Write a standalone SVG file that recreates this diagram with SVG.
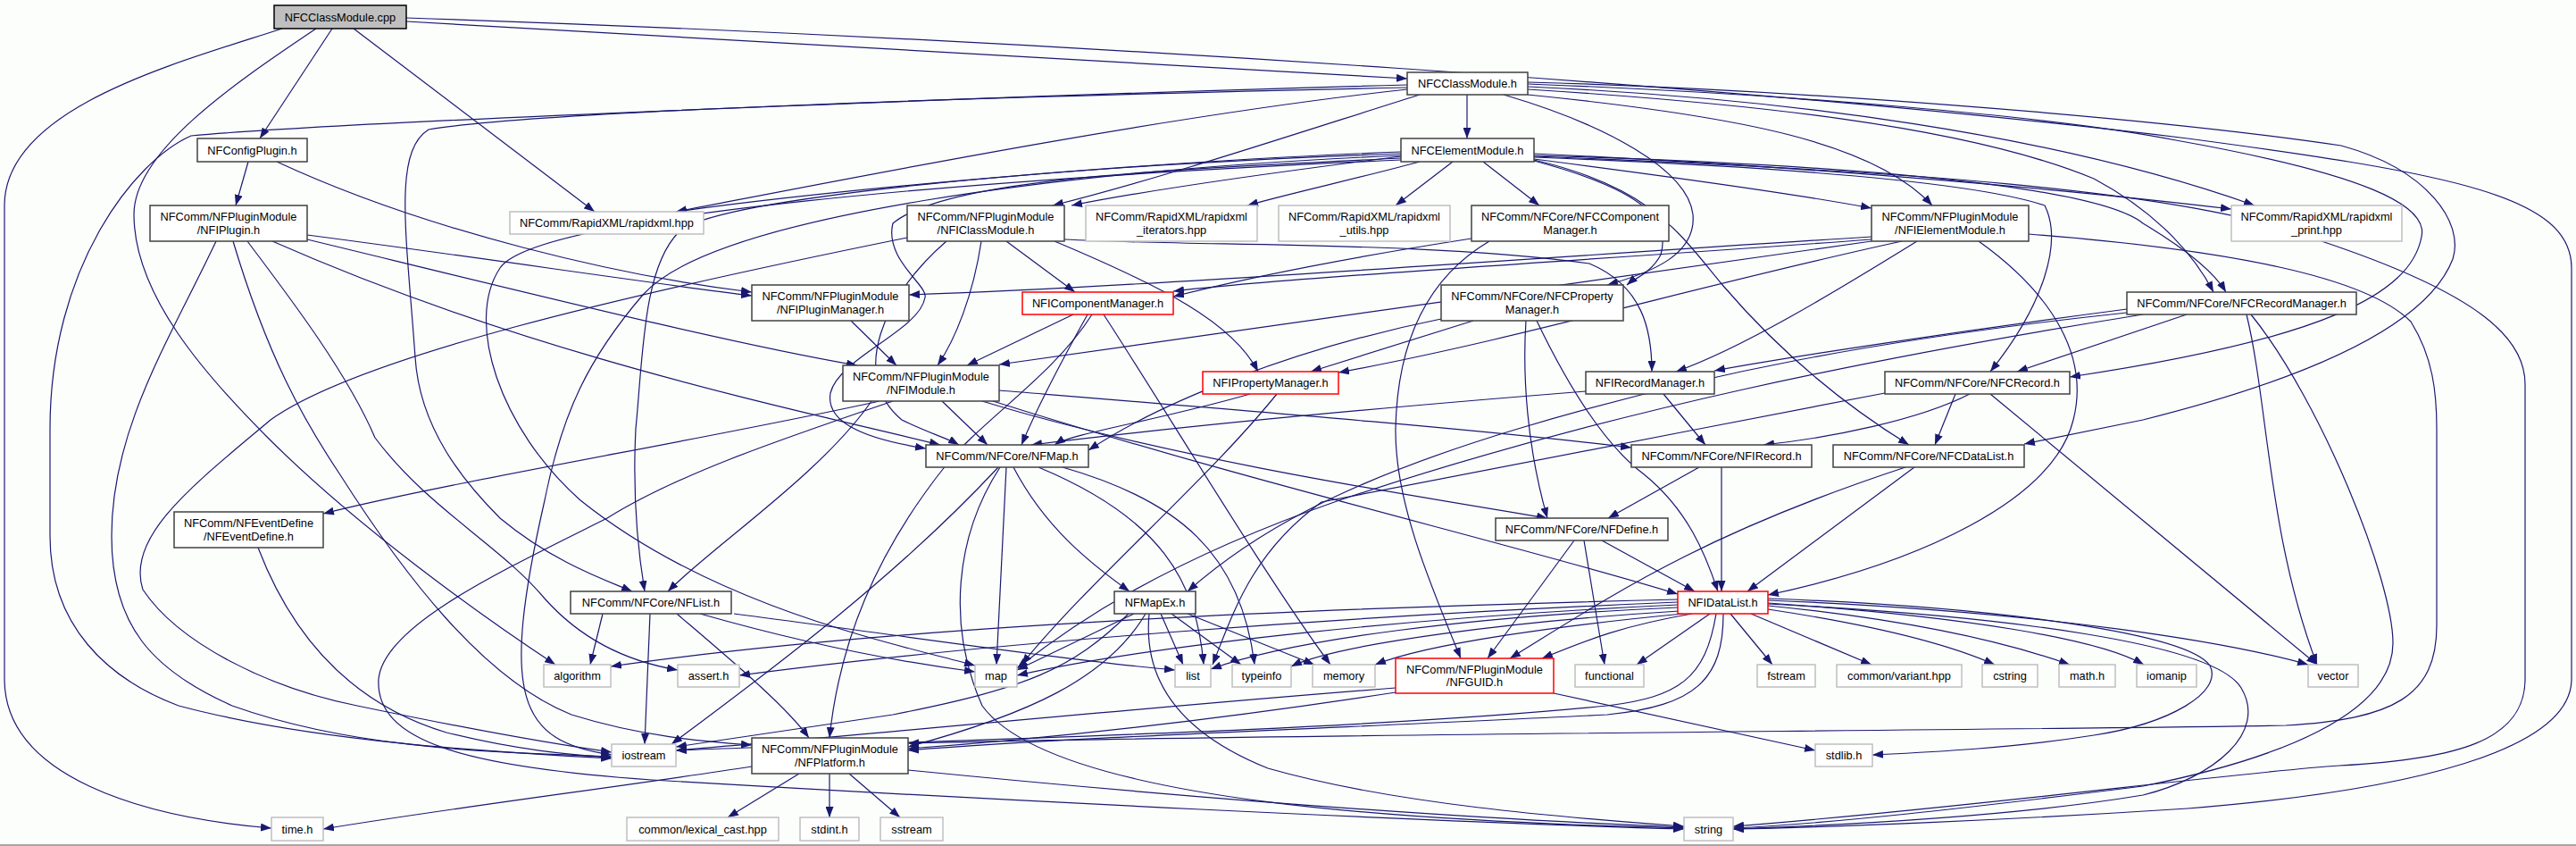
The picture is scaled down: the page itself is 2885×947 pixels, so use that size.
<svg xmlns="http://www.w3.org/2000/svg" width="2885" height="947" viewBox="0 0 2885 947">
<defs>
<marker id="a" markerUnits="userSpaceOnUse" markerWidth="12" markerHeight="9" refX="12" refY="4.5" orient="auto"><path d="M0,0 L12,4.5 L0,9 z" fill="#191970"/></marker>
<style>
.n rect{fill:#fff;stroke:#404040;stroke-width:1.5}
.g rect{fill:#fff;stroke:#bfbfbf;stroke-width:1.5}
.r rect{fill:#fff;stroke:#ff0000;stroke-width:1.5}
.root rect{fill:#bfbfbf;stroke:#000;stroke-width:1.5}
text{font-family:"Liberation Sans",Arial,sans-serif;font-size:12.8px;text-anchor:middle;fill:#000}
#edges path{fill:none;stroke:#191970;stroke-width:1.2;marker-end:url(#a)}
</style>
</defs>
<rect x="0" y="0" width="2885" height="947" fill="#fcfefc"/>
<line x1="0" y1="946" x2="2885" y2="946" stroke="#888" stroke-width="1.5"/>
<g id="edges">
<path d="M455,24 C900,48 1300,72 1576,88"/>
<path d="M372,32 L291,155"/>
<path d="M396,32 L666,237"/>
<path d="M316,32 C200,70 5,120 5,230 L5,760 C5,870 160,915 304,927"/>
<path d="M354,32 C260,95 150,170 150,240 C150,330 230,420 300,490 C400,590 540,690 622,744"/>
<path d="M455,20 C1200,45 2000,100 2450,155 C2750,195 2880,220 2880,300 L2880,760 C2880,840 2700,885 2450,905 C2250,918 2050,926 1941,928"/>
<path d="M278,181 L264,230"/>
<path d="M310,181 C480,260 700,310 842,327"/>
<path d="M344,263 C550,290 720,316 842,331"/>
<path d="M344,268 C600,330 820,385 960,409"/>
<path d="M242,270 C190,380 125,480 125,600 C125,700 170,750 260,790 C400,840 560,842 685,847"/>
<path d="M261,270 C300,400 340,470 380,530 C450,640 540,760 640,800 C720,825 790,830 842,834"/>
<path d="M277,270 C330,340 390,420 420,490 C480,570 560,610 610,670 C650,715 700,740 759,750"/>
<path d="M305,270 C600,400 900,460 1053,498"/>
<path d="M1643,106 L1643,155"/>
<path d="M1576,95 C1200,105 400,135 214,152 C150,180 56,300 56,480 L56,600 C56,700 120,760 200,790 C350,830 550,842 685,849"/>
<path d="M1576,98 C1100,108 600,125 480,145 C440,170 455,260 465,400 C470,480 520,540 560,580 C620,630 680,650 708,662"/>
<path d="M1576,100 C1300,130 950,200 757,237"/>
<path d="M1590,106 C1450,150 1300,200 1179,230"/>
<path d="M1711,106 C1950,130 2100,160 2164,230"/>
<path d="M1711,97 C2000,110 2300,150 2525,230"/>
<path d="M1684,106 C1800,140 1890,190 1896,240 C1900,285 1850,305 1800,319"/>
<path d="M1711,100 C1950,115 2200,140 2345,200 C2420,240 2460,290 2479,327"/>
<path d="M1711,94 C2000,105 2300,130 2437,157 C2650,195 2720,230 2712,265 C2700,330 2600,380 2318,422"/>
<path d="M1711,92 C2000,100 2400,130 2622,163 C2720,190 2760,250 2747,290 C2720,360 2600,420 2400,470 C2350,480 2300,490 2267,497"/>
<path d="M1569,170 C1300,180 950,210 757,237"/>
<path d="M1569,175 C1450,190 1300,210 1200,230"/>
<path d="M1590,181 C1520,200 1450,215 1397,230"/>
<path d="M1627,181 L1563,230"/>
<path d="M1661,181 L1724,230"/>
<path d="M1718,178 C1850,195 2000,215 2096,233"/>
<path d="M1718,172 C2000,185 2300,210 2499,234"/>
<path d="M1718,180 C1850,215 1870,250 1860,285 C1850,305 1830,312 1822,319"/>
<path d="M1718,174 C2100,185 2350,210 2400,250 C2450,280 2480,305 2493,327"/>
<path d="M1718,176 C1950,185 2200,200 2290,230 C2310,270 2290,340 2229,416"/>
<path d="M1718,179 C1850,210 1880,260 1930,320 C1990,390 2060,450 2138,498"/>
<path d="M1718,175 C2100,190 2450,210 2600,270 C2780,330 2828,380 2828,430 L2828,760 C2828,830 2750,850 2620,857 C2500,865 2200,905 1941,925"/>
<path d="M1569,177 C1300,190 1060,200 1000,250 C990,290 1040,320 1036,333 C1030,370 940,400 930,440 C925,470 960,490 1037,502"/>
<path d="M1569,172 C1200,185 800,220 760,260 C720,300 720,400 712,480 C708,560 715,620 722,662"/>
<path d="M1569,174 C1200,190 800,240 720,330 C660,400 630,460 610,560 C560,780 580,830 685,845"/>
<path d="M1569,179 C1100,200 600,240 560,300 C520,360 560,480 650,560 C800,680 1000,720 1092,745"/>
<path d="M1127,270 L1204,327"/>
<path d="M1099,270 C1090,330 1070,380 1050,409"/>
<path d="M1181,270 C1300,320 1380,360 1409,416"/>
<path d="M1192,268 C1350,276 1600,270 1780,295 C1840,320 1850,370 1850,416"/>
<path d="M1016,266 C700,330 400,400 303,470 C220,540 140,600 160,660 C200,720 300,770 400,790 C520,815 620,833 685,842"/>
<path d="M1060,270 C990,330 950,420 1010,470 C1040,485 1060,490 1074,498"/>
<path d="M2096,265 C1700,290 1300,320 1018,330"/>
<path d="M2096,268 C1800,290 1450,310 1314,326"/>
<path d="M2096,270 C1800,310 1400,370 1119,408"/>
<path d="M2130,270 C1900,320 1700,380 1499,417"/>
<path d="M2147,270 C2050,330 1950,390 1877,416"/>
<path d="M2216,270 C2300,330 2340,400 2322,470 C2300,560 2150,630 1980,666"/>
<path d="M2272,262 C2500,280 2650,310 2700,360 C2725,400 2729,440 2729,480 L2729,700 C2729,780 2680,805 2560,812 C2200,818 1400,822 1017,832"/>
<path d="M1202,352 L1083,409"/>
<path d="M1218,352 C1180,420 1160,460 1144,498"/>
<path d="M1223,352 C1180,420 1100,470 1060,520 C980,620 940,720 929,826"/>
<path d="M1236,352 C1300,450 1420,650 1490,744"/>
<path d="M953,359 L1004,409"/>
<path d="M1650,359 L1468,416"/>
<path d="M1614,357 C1450,390 1300,450 1219,504"/>
<path d="M1709,359 C1705,420 1710,500 1733,580"/>
<path d="M1721,359 C1760,440 1800,500 1840,530 C1890,570 1910,620 1924,662"/>
<path d="M1400,441 C1300,470 1200,485 1181,498"/>
<path d="M1430,441 C1350,540 1220,650 1144,744"/>
<path d="M1776,438 C1500,460 1300,480 1155,498"/>
<path d="M1863,441 L1910,498"/>
<path d="M2382,346 C2200,370 2000,400 1920,415"/>
<path d="M2449,352 L2259,416"/>
<path d="M2516,352 C2540,450 2540,600 2595,744"/>
<path d="M2521,352 C2600,450 2680,650 2680,720 C2680,800 2550,850 2400,880 C2200,905 2050,922 1941,927"/>
<path d="M2382,350 C2100,380 1900,420 1700,480 C1500,540 1400,600 1330,662"/>
<path d="M2400,352 C2100,400 1800,460 1500,560 C1300,630 1200,700 1139,748"/>
<path d="M2206,441 C2150,470 2050,490 1975,498"/>
<path d="M2190,441 L2167,498"/>
<path d="M2229,441 L2595,744"/>
<path d="M2111,440 C1900,480 1650,530 1480,562 C1400,620 1380,690 1358,744"/>
<path d="M1127,523 L1116,744"/>
<path d="M1135,523 C1170,590 1220,630 1265,662"/>
<path d="M1163,523 C1300,580 1340,650 1348,744"/>
<path d="M1190,523 C1320,560 1390,620 1405,744"/>
<path d="M1118,523 C1000,650 850,760 752,833"/>
<path d="M1120,523 C1070,600 1060,700 1100,790 C1180,900 1600,920 1886,927"/>
<path d="M1903,523 L1801,580"/>
<path d="M1928,523 L1928,662"/>
<path d="M1055,449 L1106,498"/>
<path d="M976,449 C920,530 800,610 748,662"/>
<path d="M985,449 C800,490 500,540 362,575"/>
<path d="M1119,437 C1400,460 1650,480 1827,501"/>
<path d="M1100,449 C1300,510 1550,550 1733,580"/>
<path d="M1112,449 C1400,540 1700,610 1879,665"/>
<path d="M1000,449 C880,490 760,530 680,580 C560,640 430,700 424,760 C420,830 520,858 730,873 C1100,895 1600,920 1886,928"/>
<path d="M289,613 C330,720 400,790 500,820 C580,840 640,845 685,848"/>
<path d="M1763,605 L1666,737"/>
<path d="M1774,605 L1797,744"/>
<path d="M1794,605 L1898,662"/>
<path d="M2144,523 L1957,662"/>
<path d="M2134,523 C1900,600 1800,670 1691,737"/>
<path d="M1648,267 C1500,290 1400,310 1314,332"/>
<path d="M1668,270 C1600,310 1565,380 1563,480 C1562,560 1600,650 1636,737"/>
<path d="M675,687 L661,744"/>
<path d="M728,687 L722,833"/>
<path d="M758,687 C820,740 880,790 906,826"/>
<path d="M784,687 C900,720 1000,740 1092,752"/>
<path d="M822,687 C1000,710 1200,740 1316,750"/>
<path d="M1270,687 L1139,750"/>
<path d="M1300,687 L1325,744"/>
<path d="M1312,687 L1390,744"/>
<path d="M1330,687 L1472,744"/>
<path d="M1264,687 C1200,750 1150,770 1000,800 C900,815 800,830 757,836"/>
<path d="M1283,687 C1240,760 1150,800 1017,836"/>
<path d="M1287,687 C1280,760 1320,820 1420,860 C1560,900 1750,915 1886,925"/>
<path d="M1879,671 C1500,680 1000,700 684,746"/>
<path d="M1879,674 C1500,690 1100,720 828,756"/>
<path d="M1879,677 C1600,690 1300,720 1139,756"/>
<path d="M1879,680 C1650,690 1450,715 1356,749"/>
<path d="M1881,684 C1700,695 1500,720 1446,746"/>
<path d="M1885,687 C1750,700 1600,720 1540,744"/>
<path d="M1895,687 C1820,700 1780,715 1727,737"/>
<path d="M1915,687 L1833,744"/>
<path d="M1938,687 L1985,744"/>
<path d="M1961,687 L2096,744"/>
<path d="M1980,682 C2100,700 2180,720 2234,744"/>
<path d="M1980,678 C2150,695 2250,720 2318,744"/>
<path d="M1980,675 C2200,690 2350,715 2401,744"/>
<path d="M1980,672 C2300,685 2500,720 2585,744"/>
<path d="M1980,670 C2250,680 2450,710 2475,745 C2490,775 2430,810 2345,823 C2250,838 2160,842 2097,845"/>
<path d="M1922,687 C1910,760 1880,780 1800,790 C1500,820 1000,830 757,840"/>
<path d="M1930,687 C1930,760 1900,790 1800,800 C1500,815 1200,825 1017,840"/>
<path d="M1980,676 C2250,690 2480,720 2510,770 C2540,820 2480,870 2400,890 C2250,915 2050,924 1941,928"/>
<path d="M1563,775 C1400,800 1200,825 1017,838"/>
<path d="M1563,770 C1300,790 1000,820 757,840"/>
<path d="M1740,776 L2033,840"/>
<path d="M842,858 C700,880 500,905 362,928"/>
<path d="M895,866 L815,915"/>
<path d="M929,866 L929,915"/>
<path d="M951,866 L1008,915"/>
<path d="M1017,862 C1300,890 1600,915 1886,926"/>
</g>
<g id="NFCClassModule_cpp" class="root"><rect x="307" y="6" width="148" height="26"/><text x="381" y="23.5">NFCClassModule.cpp</text></g>
<g id="NFCClassModule_h" class="n"><rect x="1576" y="81" width="135" height="25"/><text x="1643.5" y="98">NFCClassModule.h</text></g>
<g id="NFConfigPlugin_h" class="n"><rect x="221" y="155" width="123" height="26"/><text x="282.5" y="172.5">NFConfigPlugin.h</text></g>
<g id="NFCElementModule_h" class="n"><rect x="1569" y="155" width="149" height="26"/><text x="1643.5" y="172.5">NFCElementModule.h</text></g>
<g id="NFIPlugin_h" class="n"><rect x="168" y="230" width="176" height="40"/><text x="256" y="247">NFComm/NFPluginModule</text><text x="256" y="261.5">/NFIPlugin.h</text></g>
<g id="rapidxml_hpp" class="g"><rect x="571" y="237" width="217" height="25"/><text x="679.5" y="254">NFComm/RapidXML/rapidxml.hpp</text></g>
<g id="NFIClassModule_h" class="n"><rect x="1016" y="230" width="176" height="40"/><text x="1104" y="247">NFComm/NFPluginModule</text><text x="1104" y="261.5">/NFIClassModule.h</text></g>
<g id="rapidxml_iterators_hpp" class="g"><rect x="1216" y="230" width="192" height="40"/><text x="1312" y="247">NFComm/RapidXML/rapidxml</text><text x="1312" y="261.5">_iterators.hpp</text></g>
<g id="rapidxml_utils_hpp" class="g"><rect x="1432" y="230" width="192" height="40"/><text x="1528" y="247">NFComm/RapidXML/rapidxml</text><text x="1528" y="261.5">_utils.hpp</text></g>
<g id="NFCComponentManager_h" class="n"><rect x="1648" y="230" width="221" height="40"/><text x="1758.5" y="247">NFComm/NFCore/NFCComponent</text><text x="1758.5" y="261.5">Manager.h</text></g>
<g id="NFIElementModule_h" class="n"><rect x="2096" y="230" width="176" height="40"/><text x="2184" y="247">NFComm/NFPluginModule</text><text x="2184" y="261.5">/NFIElementModule.h</text></g>
<g id="rapidxml_print_hpp" class="g"><rect x="2499" y="230" width="191" height="40"/><text x="2594.5" y="247">NFComm/RapidXML/rapidxml</text><text x="2594.5" y="261.5">_print.hpp</text></g>
<g id="NFIPluginManager_h" class="n"><rect x="842" y="319" width="176" height="40"/><text x="930" y="336">NFComm/NFPluginModule</text><text x="930" y="350.5">/NFIPluginManager.h</text></g>
<g id="NFIComponentManager_h" class="r"><rect x="1145" y="327" width="169" height="25"/><text x="1229.5" y="344">NFIComponentManager.h</text></g>
<g id="NFCPropertyManager_h" class="n"><rect x="1614" y="319" width="204" height="40"/><text x="1716" y="336">NFComm/NFCore/NFCProperty</text><text x="1716" y="350.5">Manager.h</text></g>
<g id="NFCRecordManager_h" class="n"><rect x="2382" y="327" width="257" height="25"/><text x="2510.5" y="344">NFComm/NFCore/NFCRecordManager.h</text></g>
<g id="NFIModule_h" class="n"><rect x="944" y="409" width="175" height="40"/><text x="1031.5" y="426">NFComm/NFPluginModule</text><text x="1031.5" y="440.5">/NFIModule.h</text></g>
<g id="NFIPropertyManager_h" class="r"><rect x="1347" y="416" width="152" height="25"/><text x="1423" y="433">NFIPropertyManager.h</text></g>
<g id="NFIRecordManager_h" class="n"><rect x="1776" y="416" width="144" height="25"/><text x="1848" y="433">NFIRecordManager.h</text></g>
<g id="NFCRecord_h" class="n"><rect x="2111" y="416" width="207" height="25"/><text x="2214.5" y="433">NFComm/NFCore/NFCRecord.h</text></g>
<g id="NFMap_h" class="n"><rect x="1037" y="498" width="182" height="25"/><text x="1128" y="515">NFComm/NFCore/NFMap.h</text></g>
<g id="NFIRecord_h" class="n"><rect x="1827" y="498" width="202" height="25"/><text x="1928" y="515">NFComm/NFCore/NFIRecord.h</text></g>
<g id="NFCDataList_h" class="n"><rect x="2053" y="498" width="214" height="25"/><text x="2160" y="515">NFComm/NFCore/NFCDataList.h</text></g>
<g id="NFEventDefine_h" class="n"><rect x="195" y="573" width="167" height="40"/><text x="278.5" y="590">NFComm/NFEventDefine</text><text x="278.5" y="604.5">/NFEventDefine.h</text></g>
<g id="NFDefine_h" class="n"><rect x="1675" y="580" width="193" height="25"/><text x="1771.5" y="597">NFComm/NFCore/NFDefine.h</text></g>
<g id="NFList_h" class="n"><rect x="639" y="662" width="180" height="25"/><text x="729" y="679">NFComm/NFCore/NFList.h</text></g>
<g id="NFMapEx_h" class="n"><rect x="1248" y="662" width="91" height="25"/><text x="1293.5" y="679">NFMapEx.h</text></g>
<g id="NFIDataList_h" class="r"><rect x="1879" y="662" width="101" height="25"/><text x="1929.5" y="679">NFIDataList.h</text></g>
<g id="algorithm" class="g"><rect x="609" y="744" width="75" height="25"/><text x="646.5" y="761">algorithm</text></g>
<g id="assert_h" class="g"><rect x="759" y="744" width="69" height="25"/><text x="793.5" y="761">assert.h</text></g>
<g id="map" class="g"><rect x="1092" y="744" width="47" height="25"/><text x="1115.5" y="761">map</text></g>
<g id="list" class="g"><rect x="1316" y="744" width="40" height="25"/><text x="1336" y="761">list</text></g>
<g id="typeinfo" class="g"><rect x="1380" y="744" width="66" height="25"/><text x="1413" y="761">typeinfo</text></g>
<g id="memory" class="g"><rect x="1470" y="744" width="70" height="25"/><text x="1505" y="761">memory</text></g>
<g id="NFGUID_h" class="r"><rect x="1563" y="737" width="177" height="39"/><text x="1651.5" y="753.5">NFComm/NFPluginModule</text><text x="1651.5" y="768">/NFGUID.h</text></g>
<g id="functional" class="g"><rect x="1764" y="744" width="77" height="25"/><text x="1802.5" y="761">functional</text></g>
<g id="fstream" class="g"><rect x="1968" y="744" width="65" height="25"/><text x="2000.5" y="761">fstream</text></g>
<g id="variant_hpp" class="g"><rect x="2057" y="744" width="140" height="25"/><text x="2127" y="761">common/variant.hpp</text></g>
<g id="cstring" class="g"><rect x="2220" y="744" width="62" height="25"/><text x="2251" y="761">cstring</text></g>
<g id="math_h" class="g"><rect x="2306" y="744" width="63" height="25"/><text x="2337.5" y="761">math.h</text></g>
<g id="iomanip" class="g"><rect x="2393" y="744" width="67" height="25"/><text x="2426.5" y="761">iomanip</text></g>
<g id="vector" class="g"><rect x="2585" y="744" width="56" height="25"/><text x="2613" y="761">vector</text></g>
<g id="iostream" class="g"><rect x="685" y="833" width="72" height="25"/><text x="721" y="850">iostream</text></g>
<g id="NFPlatform_h" class="n"><rect x="842" y="826" width="175" height="40"/><text x="929.5" y="843">NFComm/NFPluginModule</text><text x="929.5" y="857.5">/NFPlatform.h</text></g>
<g id="stdlib_h" class="g"><rect x="2033" y="833" width="64" height="25"/><text x="2065" y="850">stdlib.h</text></g>
<g id="time_h" class="g"><rect x="304" y="915" width="58" height="26"/><text x="333" y="932.5">time.h</text></g>
<g id="lexical_cast_hpp" class="g"><rect x="702" y="915" width="170" height="26"/><text x="787" y="932.5">common/lexical_cast.hpp</text></g>
<g id="stdint_h" class="g"><rect x="896" y="915" width="66" height="26"/><text x="929" y="932.5">stdint.h</text></g>
<g id="sstream" class="g"><rect x="986" y="915" width="70" height="26"/><text x="1021" y="932.5">sstream</text></g>
<g id="string" class="g"><rect x="1886" y="915" width="55" height="26"/><text x="1913.5" y="932.5">string</text></g>
</svg>
